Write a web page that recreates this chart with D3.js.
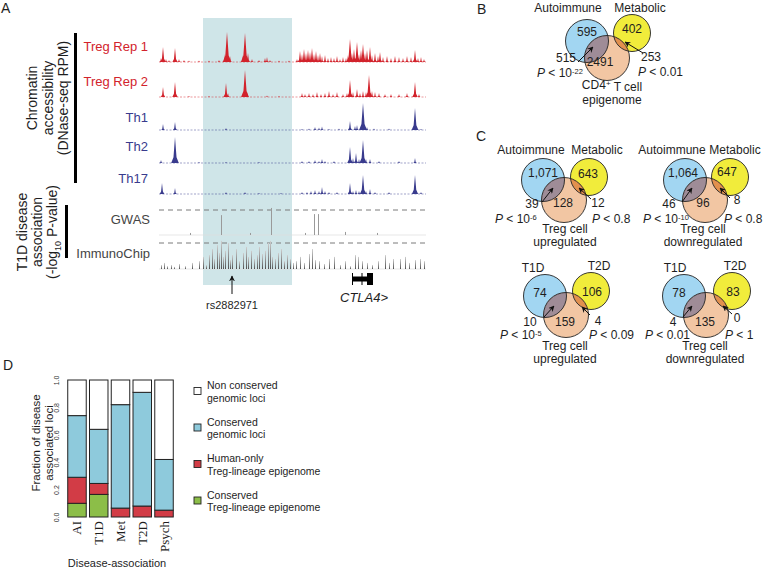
<!DOCTYPE html>
<html>
<head>
<meta charset="utf-8">
<title>Treg epigenome and disease loci</title>
<script src="https://d3js.org/d3.v7.min.js"></script>
<style>
	body { margin: 0; background: #fff; }
	text { font-family: "Liberation Sans", Arial, sans-serif; fill: #1e1e1e; }
</style>
</head>
<body>
<svg width="763" height="570"></svg>
<script>

// ---------- panel A data : [position (kb from window start), signal] ----------
var trackNames = ["Treg Rep 1", "Treg Rep 2", "Th1", "Th2", "Th17"];
var tregRep1 = [[2,4],[4,15],[7,3],[10,2],[16,14],[20,3],[25,2],[30,1.5],[40,1.5],[50,1.5],[60,2],[66,8],[68,30],[71,6],
	[84,7],[86,29],[89,9],[93,3],[100,2],[106,4],[108,5],[111,2],[120,1.5],[130,1.5],[138,3],[141,11],[143,8],[145,13],
	[147,9],[149,12],[151,10],[153,14],[155,8],[157,11],[159,7],[161,9],[163,6],[166,7],[169,4],[172,5],[175,4],[178,6],
	[181,3],[184,5],[187,4],[189,7],[191,23],[193,9],[195,13],[198,20],[200,8],[202,12],[204,18],[206,9],[208,12],[211,15],
	[213,7],[216,9],[219,6],[221,10],[224,5],[228,6],[232,4],[236,6],[240,5],[244,4],[248,6],[252,5],[256,12],[259,4],[262,5],[265,3]];
var tregRep2 = [[4,10],[16,15],[30,0.8],[50,0.8],[67,14],[69,4],[86,27],[88,5],[108,1.5],[120,0.8],[143,4],[146,3],[150,4],
	[154,3],[158,5],[162,3],[166,4],[170,6],[174,3],[178,5],[184,3],[188,4],[191,17],[194,5],[198,8],[201,4],[204,6],[207,5],
	[210,22],[213,6],[216,5],[220,4],[226,3],[232,3],[240,3],[248,4],[256,15],[260,3]];
var th1 = [[4,6],[16,8],[67,2],[143,1],[150,1.5],[156,3],[160,2.5],[163,3.5],[170,1],[180,1.5],[191,9],[196,4],[198,5],
	[204,27],[208,3],[215,1.5],[230,1.5],[256,22],[262,1]];
var th2 = [[2,3],[16,26],[40,1],[67,1],[100,1],[143,2],[150,2],[156,3],[160,2],[163,4],[166,2],[175,2],[191,16],[194,5],
	[197,10],[200,4],[204,23],[207,4],[211,4],[220,2],[240,2],[256,5]];
var th17 = [[3,11],[16,6],[67,2],[86,2],[100,1],[122,1],[143,2],[148,2],[152,3],[156,4],[160,3],[163,7],[166,3],[170,2],
	[178,2],[191,11],[194,3],[197,4],[200,3],[204,19],[207,3],[211,5],[216,2],[230,2],[256,19],[262,2]];

// T1D association, -log10 P
var gwas = [[31,0.6],[62,5.8],[91,0.6],[112,7.9],[146,0.6],[155,6.1],[159,6.1],[186,0.9],[218,0.6]];
var immunoChip = [[2,1.1],[5,1.7],[8,0.8],[12,1.1],[15,0.6],[20,1.4],[26,0.8],[33,1.7],[40,2.2],[44,3.4],[47,1.1],[50,3.9],
	[53,5.6],[55,2.8],[58,6.7],[60,4.5],[62,7.9],[64,3.4],[66,5.1],[69,7.3],[71,2.5],[73,3.9],[77,5.6],[80,2.2],[84,4.5],
	[87,6.2],[89,3.4],[92,5.1],[95,2.8],[98,3.9],[100,6.2],[103,4.2],[106,5.1],[109,7.3],[111,7.9],[113,3.4],[116,2.8],
	[119,4.5],[122,5.6],[125,2.2],[128,3.9],[131,2.8],[134,1.7],[137,2.2],[141,3.4],[145,1.7],[150,4.2],[153,5.6],[156,2.5],
	[160,2.2],[165,1.4],[170,2.8],[175,3.4],[181,1.1],[186,2.2],[191,0.8],[196,3.9],[199,3.4],[203,2.2],[208,1.7],[213,1.1],
	[219,2.2],[226,3.9],[230,1.7],[234,2.8],[241,2.8],[246,3.4],[250,1.7],[256,2.5],[261,2.8],[265,2.2]];
var sigThreshold = 7.3;
var highlightKb = [44, 133];
var snpKb = 73, snpName = "rs2882971";
var geneName = "CTLA4", geneKb = [193, 214];
var geneExons = [[193,194],[202.5,203.5],[208,214]];

// ---------- panels B and C data ----------
var vennLeftName = ["Autoimmune", "Autoimmune", "Autoimmune", "T1D", "T1D"];
var vennRightName = ["Metabolic", "Metabolic", "Metabolic", "T2D", "T2D"];
var vennLeftOnly = ["595", "1,071", "1,064", "74", "78"];
var vennRightOnly = ["402", "643", "647", "106", "83"];
var vennEpiOnly = ["2491", "128", "96", "159", "135"];
var vennLeftShared = ["515", "39", "46", "10", "4"];
var vennRightShared = ["253", "12", "8", "4", "0"];
var vennLeftPBase = ["10", "10", "10", "10", "0.01"];
var vennLeftPExp = ["-22", "-6", "-10", "-5", ""];
var vennRightP = ["0.01", "0.8", "0.8", "0.09", "1"];
var vennCaption1 = ["CD4+ T cell", "Treg cell", "Treg cell", "Treg cell", "Treg cell"];
var vennCaption2 = ["epigenome", "upregulated", "downregulated", "upregulated", "downregulated"];

// ---------- panel D data ----------
var diseaseCats = ["AI", "T1D", "Met", "T2D", "Psych"];
var consTregEpi = [0.10, 0.165, 0, 0, 0];
var humanTregEpi = [0.19, 0.08, 0.065, 0.08, 0.05];
var consLoci = [0.45, 0.395, 0.755, 0.83, 0.37];
var nonConsLoci = [0.26, 0.36, 0.18, 0.09, 0.58];
var yTicks = [0, 0.2, 0.4, 0.6, 0.8, 1.0];
var legendLabels = [["Non conserved", "genomic loci"], ["Conserved", "genomic loci"],
	["Human-only", "Treg-lineage epigenome"], ["Conserved", "Treg-lineage epigenome"]];


var svg = d3.select("svg");
var defs = svg.append("defs");

defs.append("marker")
	.attr("id", "arr")
	.attr("viewBox", "0 0 10 10")
	.attr("refX", 9).attr("refY", 5)
	.attr("markerWidth", 6).attr("markerHeight", 6)
	.attr("markerUnits", "userSpaceOnUse")
	.attr("orient", "auto")
	.append("path").attr("d", "M0,0 L10,5 L0,10 L3,5 z").attr("fill", "#111");

var grad = defs.append("linearGradient").attr("id", "icGrad").attr("x1", 0).attr("x2", 0).attr("y1", 0).attr("y2", 1);
grad.append("stop").attr("offset", "0%").attr("stop-color", "#cfcfcf");
grad.append("stop").attr("offset", "100%").attr("stop-color", "#505050");

// panel letters
[["A", 1, 13], ["B", 477, 14], ["C", 476, 141], ["D", 3, 370]].forEach(function(p) {
	svg.append("text").attr("x", p[1]).attr("y", p[2]).style("font-size", "14px").text(p[0]);
});

//================ Panel A ================
var xg = d3.scaleLinear().domain([0, 267]).range([159, 426]);

svg.append("rect")
	.attr("x", xg(highlightKb[0]))
	.attr("y", 18)
	.attr("width", xg(highlightKb[1]) - xg(highlightKb[0]))
	.attr("height", 267)
	.attr("fill", "#cfe5e8");

var dnase = [tregRep1, tregRep2, th1, th2, th17];
var trackBase = [62, 97, 130, 163, 194];
var trackLabelY = [51, 86, 122, 151, 183];
var trackColor = ["#d2232c", "#d2232c", "#393b8d", "#393b8d", "#393b8d"];
var ySig = d3.scaleLinear().domain([0, 30]).range([0, -30]);

var peakArea = d3.area()
	.x(function(p) { return xg(p[0]); })
	.y0(0)
	.y1(function(p) { return ySig(p[1]); });

dnase.forEach(function(peaks, i) {
	var g = svg.append("g").attr("transform", "translate(0," + trackBase[i] + ")");
	g.append("line")
		.attr("x1", xg(0)).attr("x2", xg(267))
		.attr("stroke", trackColor[i]).attr("stroke-opacity", 0.6)
		.attr("stroke-width", 0.8).attr("stroke-dasharray", "2,1.5");
	g.selectAll("path")
		.data(peaks)
		.enter().append("path")
		.attr("fill", trackColor[i])
		.attr("d", function(d) {
			var w = 1.2 + d[1] * 0.1;
			return peakArea([[d[0] - w, 0], [d[0] - w * 0.4, d[1] * 0.22], [d[0], d[1]],
				[d[0] + w * 0.4, d[1] * 0.22], [d[0] + w, 0]]);
		});
	svg.append("text")
		.attr("x", 148).attr("y", trackLabelY[i])
		.attr("text-anchor", "end")
		.style("font-size", "13px")
		.style("fill", trackColor[i])
		.text(trackNames[i]);
});

// association tracks
var assoc = [gwas, immunoChip];
var assocNames = ["GWAS", "ImmunoChip"];
var assocBase = [235, 269];
var assocTop = [210, 243];
var assocLabelY = [224, 258];

assoc.forEach(function(snps, i) {
	var yA = d3.scaleLinear().domain([0, sigThreshold]).range([assocBase[i], assocTop[i]]);
	svg.append("line")
		.attr("x1", xg(0)).attr("x2", xg(267))
		.attr("y1", yA(0)).attr("y2", yA(0))
		.attr("stroke", "#dcdcdc").attr("stroke-width", 0.7);
	svg.append("line")
		.attr("x1", xg(0)).attr("x2", xg(267))
		.attr("y1", yA(sigThreshold)).attr("y2", yA(sigThreshold))
		.attr("stroke", "#7a7a7a").attr("stroke-width", 1)
		.attr("stroke-dasharray", "5,4");
	svg.append("g").selectAll("rect")
		.data(snps)
		.enter().append("rect")
		.attr("x", function(d) { return Math.round(xg(d[0])); })
		.attr("y", function(d) { return yA(d[1]); })
		.attr("width", 1)
		.attr("height", function(d) { return yA(0) - yA(d[1]); })
		.attr("fill", i == 0 ? "#9a9a9a" : "url(#icGrad)");
	svg.append("text")
		.attr("x", 150).attr("y", assocLabelY[i])
		.attr("text-anchor", "end")
		.style("font-size", "13px")
		.style("fill", "#444")
		.text(assocNames[i]);
});

// side titles
svg.append("rect").attr("x", 74).attr("y", 33).attr("width", 3).attr("height", 150).attr("fill", "#000");
svg.append("rect").attr("x", 65).attr("y", 205).attr("width", 3).attr("height", 53).attr("fill", "#000");

["Chromatin", "accessibility", "(DNase-seq RPM)"].forEach(function(t, i) {
	svg.append("text")
		.attr("transform", "translate(" + (37 + i * 15.5) + ",98) rotate(-90)")
		.attr("text-anchor", "middle")
		.style("font-size", "14px")
		.text(t);
});
["T1D disease", "association"].forEach(function(t, i) {
	svg.append("text")
		.attr("transform", "translate(" + (27 + i * 15) + ",232) rotate(-90)")
		.attr("text-anchor", "middle")
		.style("font-size", "14px")
		.text(t);
});
var logT = svg.append("text")
	.attr("transform", "translate(57,232) rotate(-90)")
	.attr("text-anchor", "middle")
	.style("font-size", "14px");
logT.append("tspan").text("(-log");
logT.append("tspan").attr("dy", 4).style("font-size", "9px").text("10");
logT.append("tspan").attr("dy", -4).text(" P-value)");

// SNP arrow and gene model
svg.append("line")
	.attr("x1", xg(snpKb)).attr("x2", xg(snpKb))
	.attr("y1", 294).attr("y2", 276)
	.attr("stroke", "#111").attr("stroke-width", 1)
	.attr("marker-end", "url(#arr)");
svg.append("text")
	.attr("x", xg(snpKb)).attr("y", 309)
	.attr("text-anchor", "middle")
	.style("font-size", "11px")
	.text(snpName);

svg.append("rect")
	.attr("x", xg(geneKb[0])).attr("y", 276.5)
	.attr("width", xg(geneKb[1]) - xg(geneKb[0])).attr("height", 5)
	.attr("fill", "#000");
svg.selectAll(".exon")
	.data(geneExons)
	.enter().append("rect")
	.attr("class", "exon")
	.attr("x", function(d) { return xg(d[0]); })
	.attr("y", 273)
	.attr("width", function(d) { return xg(d[1]) - xg(d[0]); })
	.attr("height", 12)
	.attr("fill", "#000");
svg.append("text")
	.attr("x", 340).attr("y", 302)
	.style("font-size", "13px")
	.style("font-style", "italic")
	.text(geneName + ">");

//================ Panels B and C ================
var vennLayout = [
	{b:[587,41], yl:[632,33], o:[607,58], tL:[568,8], tR:[640,8], nL:[587,32], nR:[632,29], nC:[600,62],
	 nLO:[566,58], nRO:[651,57], pL:[537,73], pR:[638,72], cap:[612,85], gap:14.5, a1:[[578,62],[593,47]], a2:[[643,53],[625,42]]},
	{b:[543,180], yl:[589,177], o:[564,200], tL:[531,150], tR:[597,150], nL:[543,173], nR:[588,174], nC:[563,203],
	 nLO:[532,204], nRO:[598,203], pL:[495,219], pR:[592,219], cap:[565,229], gap:12.5, a1:[[542,202],[553,188]], a2:[[591,199],[579,188]]},
	{b:[685,180], yl:[730,177], o:[705,200], tL:[672,150], tR:[735,150], nL:[683,173], nR:[727,172], nC:[703,203],
	 nLO:[669,204], nRO:[737,200], pL:[643,219], pR:[724,219], cap:[703,229], gap:12.5, a1:[[682,202],[692,188]], a2:[[730,198],[720,188]]},
	{b:[545,296], yl:[591,291], o:[566,315], tL:[533,268], tR:[599,266], nL:[540,293], nR:[592,292], nC:[565,322],
	 nLO:[530,322], nRO:[598,321], pL:[500,335], pR:[589,335], cap:[565,346], gap:12.5, a1:[[544,317],[554,306]], a2:[[590,315],[582,307]]},
	{b:[684,296], yl:[732,291], o:[706,315], tL:[675,268], tR:[735,266], nL:[679,293], nR:[733,292], nC:[705,322],
	 nLO:[673,322], nRO:[737,318], pL:[645,335], pR:[725,335], cap:[705,346], gap:12.5, a1:[[683,317],[692,306]], a2:[[732,314],[723,306]]}
];
var rBlue = 21.5, rYellow = 18.5, rOrange = 22.5;

function vtext(p, s, anchor) {
	return svg.append("text")
		.attr("x", p[0]).attr("y", p[1])
		.attr("dy", "0.35em")
		.attr("text-anchor", anchor || "middle")
		.style("font-size", "12px")
		.text(s);
}

vennLayout.forEach(function(L, i) {
	var g = svg.append("g");
	defs.append("clipPath").attr("id", "cb" + i)
		.append("circle").attr("cx", L.b[0]).attr("cy", L.b[1]).attr("r", rBlue);
	defs.append("clipPath").attr("id", "cy" + i)
		.append("circle").attr("cx", L.yl[0]).attr("cy", L.yl[1]).attr("r", rYellow);

	g.append("circle").attr("cx", L.b[0]).attr("cy", L.b[1]).attr("r", rBlue).attr("fill", "#a2d6f2");
	g.append("circle").attr("cx", L.yl[0]).attr("cy", L.yl[1]).attr("r", rYellow).attr("fill", "#f1ec3b");
	g.append("circle").attr("cx", L.o[0]).attr("cy", L.o[1]).attr("r", rOrange).attr("fill", "#f2c6a3");
	g.append("circle").attr("cx", L.o[0]).attr("cy", L.o[1]).attr("r", rOrange)
		.attr("fill", "#9f8c97").attr("clip-path", "url(#cb" + i + ")");
	g.append("circle").attr("cx", L.o[0]).attr("cy", L.o[1]).attr("r", rOrange)
		.attr("fill", "#e2904e").attr("clip-path", "url(#cy" + i + ")");
	[[L.b, rBlue], [L.yl, rYellow], [L.o, rOrange]].forEach(function(c) {
		g.append("circle").attr("cx", c[0][0]).attr("cy", c[0][1]).attr("r", c[1])
			.attr("fill", "none").attr("stroke", "#222").attr("stroke-width", 0.9);
	});

	vtext(L.tL, vennLeftName[i]);
	vtext(L.tR, vennRightName[i]);
	vtext(L.nL, vennLeftOnly[i]);
	vtext(L.nR, vennRightOnly[i]);
	vtext(L.nC, vennEpiOnly[i]);
	vtext(L.nLO, vennLeftShared[i]);
	vtext(L.nRO, vennRightShared[i]);

	var pl = vtext(L.pL, "", "start");
	pl.append("tspan").style("font-style", "italic").text("P");
	pl.append("tspan").text(" < " + vennLeftPBase[i]);
	if (vennLeftPExp[i]) {
		pl.append("tspan").attr("dy", "-0.45em").style("font-size", "7.5px").text(vennLeftPExp[i]);
	}
	var pr = vtext(L.pR, "", "start");
	pr.append("tspan").style("font-style", "italic").text("P");
	pr.append("tspan").text(" < " + vennRightP[i]);

	var c1 = vtext(L.cap, "");
	var parts = vennCaption1[i].split("+");
	c1.append("tspan").text(parts[0]);
	if (parts.length > 1) {
		c1.append("tspan").attr("dy", "-0.45em").style("font-size", "8px").text("+");
		c1.append("tspan").attr("dy", "0.45em").text(parts[1]);
	}
	vtext([L.cap[0], L.cap[1] + L.gap], vennCaption2[i]);

	[L.a1, L.a2].forEach(function(a) {
		svg.append("line")
			.attr("x1", a[0][0]).attr("y1", a[0][1])
			.attr("x2", a[1][0]).attr("y2", a[1][1])
			.attr("stroke", "#111").attr("stroke-width", 1)
			.attr("marker-end", "url(#arr)");
	});
});

//================ Panel D ================
var xd = d3.scaleBand().domain(diseaseCats).range([66, 175]).paddingInner(0.15).paddingOuter(0.08);
var yd = d3.scaleLinear().domain([0, 1]).range([517, 380]);

var rows = diseaseCats.map(function(c, i) {
	return { cat: c, consTreg: consTregEpi[i], humanTreg: humanTregEpi[i], consLoci: consLoci[i], nonCons: nonConsLoci[i] };
});
var keys = ["consTreg", "humanTreg", "consLoci", "nonCons"];
var fills = { consTreg: "#8cbe48", humanTreg: "#d23c46", consLoci: "#8ecadc", nonCons: "#ffffff" };
var series = d3.stack().keys(keys)(rows);

svg.append("g").selectAll("g")
	.data(series)
	.enter().append("g")
	.attr("fill", function(d) { return fills[d.key]; })
	.selectAll("rect")
	.data(function(d) { return d; })
	.enter().append("rect")
	.attr("x", function(d) { return xd(d.data.cat); })
	.attr("y", function(d) { return yd(d[1]); })
	.attr("width", xd.bandwidth())
	.attr("height", function(d) { return yd(d[0]) - yd(d[1]); })
	.attr("stroke", "#222")
	.attr("stroke-width", 1);

var yAxis = svg.append("g")
	.attr("transform", "translate(64,0)")
	.call(d3.axisLeft(yd).tickValues(yTicks).tickFormat(d3.format(".1f")).tickSize(0));
yAxis.select(".domain").remove();
yAxis.selectAll("text")
	.attr("transform", "rotate(-90)")
	.attr("x", 0).attr("y", -5).attr("dy", 0)
	.attr("text-anchor", "middle")
	.style("font-size", "7px")
	.style("font-family", "'Liberation Sans', Arial, sans-serif")
	.style("fill", "#333");

svg.append("g").selectAll("text")
	.data(diseaseCats)
	.enter().append("text")
	.attr("transform", function(d) { return "translate(" + (xd(d) + xd.bandwidth() / 2 + 4.5) + ",521) rotate(-90)"; })
	.attr("text-anchor", "end")
	.style("font-family", "'Liberation Serif', 'Times New Roman', serif")
	.style("font-size", "13px")
	.text(function(d) { return d; });

["Fraction of disease", "associated loci"].forEach(function(t, i) {
	svg.append("text")
		.attr("transform", "translate(" + (40 + i * 13) + ",443) rotate(-90)")
		.attr("text-anchor", "middle")
		.style("font-size", "11.5px")
		.text(t);
});
svg.append("text")
	.attr("x", 117).attr("y", 567)
	.attr("text-anchor", "middle")
	.style("font-size", "11px")
	.text("Disease-association");

// legend, top to bottom
var legendKeys = ["nonCons", "consLoci", "humanTreg", "consTreg"];
legendKeys.forEach(function(k, i) {
	var cy = 391 + i * 36.5;
	svg.append("rect")
		.attr("x", 194).attr("y", cy - 3.5)
		.attr("width", 7).attr("height", 7)
		.attr("fill", fills[k]).attr("stroke", "#222").attr("stroke-width", 0.9);
	legendLabels[i].forEach(function(t, j) {
		svg.append("text")
			.attr("x", 207).attr("y", cy - 2 + j * 12.5)
			.style("font-size", "10.5px")
			.text(t);
	});
});

</script>
</body>
</html>
